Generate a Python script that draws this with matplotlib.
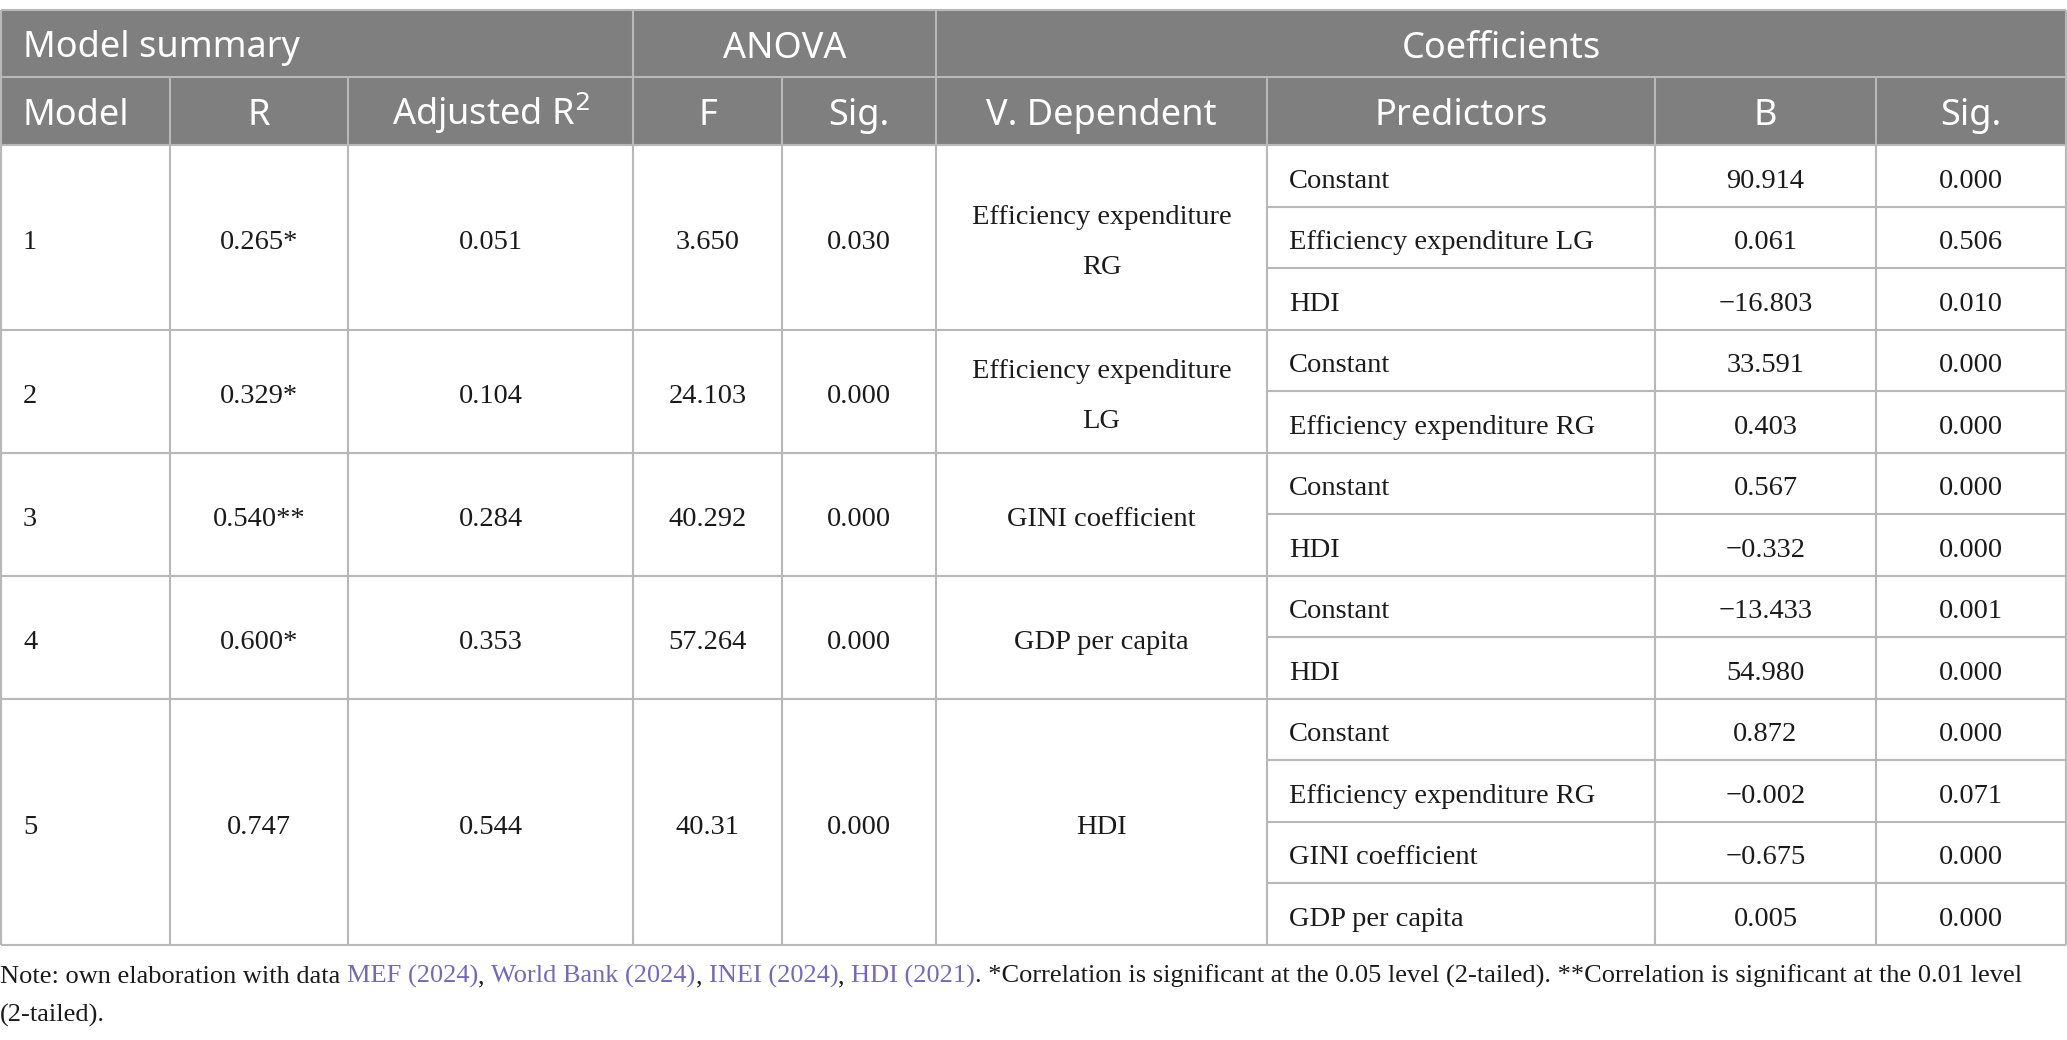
import matplotlib
matplotlib.use("Agg")
import matplotlib.pyplot as plt
from matplotlib.patches import Rectangle

# table content
models = ["1", "2", "3", "4", "5"]
r_vals = ["0.265*", "0.329*", "0.540**", "0.600*", "0.747"]
adj_r2 = ["0.051", "0.104", "0.284", "0.353", "0.544"]
f_vals = ["3.650", "24.103", "40.292", "57.264", "40.31"]
anova_sig = ["0.030", "0.000", "0.000", "0.000", "0.000"]
dependent = ["Efficiency expenditure\nRG", "Efficiency expenditure\nLG",
             "GINI coefficient", "GDP per capita", "HDI"]
predictors = [
    ["Constant", "Efficiency expenditure LG", "HDI"],
    ["Constant", "Efficiency expenditure RG"],
    ["Constant", "HDI"],
    ["Constant", "HDI"],
    ["Constant", "Efficiency expenditure RG", "GINI coefficient", "GDP per capita"],
]
b_vals = [
    ["90.914", "0.061", "\u221216.803"],
    ["33.591", "0.403"],
    ["0.567", "\u22120.332"],
    ["\u221213.433", "54.980"],
    ["0.872", "\u22120.002", "\u22120.675", "0.005"],
]
coef_sig = [
    ["0.000", "0.506", "0.010"],
    ["0.000", "0.000"],
    ["0.000", "0.000"],
    ["0.001", "0.000"],
    ["0.000", "0.071", "0.000", "0.000"],
]
group_headers = [("Model summary", 0, 3, "left"), ("ANOVA", 3, 5, "center"),
                 ("Coefficients", 5, 9, "center")]
col_headers = ["Model", "R", "Adjusted R$^2$", "F", "Sig.", "V. Dependent",
               "Predictors", "B", "Sig."]
note_parts = [
    ("Note: own elaboration with data ", "k"),
    ("MEF (2024)", "link"),
    (", ", "k"),
    ("World Bank (2024)", "link"),
    (", ", "k"),
    ("INEI (2024)", "link"),
    (", ", "k"),
    ("HDI (2021)", "link"),
    (". *Correlation is significant at the 0.05 level (2-tailed). **Correlation is significant at the 0.01 level", "k"),
]
note_line2 = "(2-tailed)."

W, H = 2067, 1040
cols = [1, 170, 348, 633, 782, 936, 1267, 1655, 1876, 2066]
y_top, y_h1, y_h2 = 10, 77, 145
row_h = 61.5
pad = 22

hdr_bg = "#7f7f7f"
grid = "#b8b8b8"
link_col = "#7566c0"
txt_col = "#1a1a1a"
sans = "Noto Sans"
serif = "Liberation Serif"
hdr_fs = 26
body_fs = 20.5
note_fs = 19
hdr_base = 14     # baseline below row middle
body_base = 12
line_gap = 50

fig = plt.figure(figsize=(W / 100, H / 100), dpi=100)
ax = fig.add_axes([0, 0, 1, 1])
ax.set_xlim(0, W)
ax.set_ylim(H, 0)
ax.axis("off")

ax.add_patch(Rectangle((cols[0], y_top), cols[-1] - cols[0], y_h2 - y_top,
                       facecolor=hdr_bg, edgecolor="none"))

def hline(y, x0, x1):
    ax.plot([x0, x1], [y, y], color=grid, lw=1.5, solid_capstyle="butt")

def vline(x, y0, y1):
    ax.plot([x, x], [y0, y1], color=grid, lw=1.5, solid_capstyle="butt")

def cell_text(txt, c0, c1, mid, align, family, fs, base, color=txt_col):
    x = cols[c0] + pad if align == "left" else (cols[c0] + cols[c1]) / 2
    lines = txt.split("\n")
    n = len(lines)
    for k, line in enumerate(lines):
        yb = mid + base + (k - (n - 1) / 2) * line_gap
        ax.text(x, yb, line, ha=align, va="baseline", family=family,
                fontsize=fs, color=color)

# header rows
for label, c0, c1, align in group_headers:
    cell_text(label, c0, c1, (y_top + y_h1) / 2, align, sans, hdr_fs,
              hdr_base, "white")
for i, label in enumerate(col_headers):
    cell_text(label, i, i + 1, (y_h1 + y_h2) / 2,
              "left" if i == 0 else "center", sans, hdr_fs, hdr_base, "white")

hline(y_top, cols[0], cols[-1])
hline(y_h1, cols[0], cols[-1])
hline(y_h2, cols[0], cols[-1])
for c in (3, 5):
    vline(cols[c], y_top, y_h1)
for c in cols[1:-1]:
    vline(c, y_h1, y_h2)

# body
y = y_h2
for g in range(len(models)):
    n = len(predictors[g])
    y0, y1 = y, y + n * row_h
    mid = (y0 + y1) / 2
    cell_text(models[g], 0, 1, mid, "left", serif, body_fs, body_base)
    cell_text(r_vals[g], 1, 2, mid, "center", serif, body_fs, body_base)
    cell_text(adj_r2[g], 2, 3, mid, "center", serif, body_fs, body_base)
    cell_text(f_vals[g], 3, 4, mid, "center", serif, body_fs, body_base)
    cell_text(anova_sig[g], 4, 5, mid, "center", serif, body_fs, body_base)
    cell_text(dependent[g], 5, 6, mid, "center", serif, body_fs, body_base)
    for k in range(n):
        yc = y0 + (k + 0.5) * row_h
        cell_text(predictors[g][k], 6, 7, yc, "left", serif, body_fs, body_base)
        cell_text(b_vals[g][k], 7, 8, yc, "center", serif, body_fs, body_base)
        cell_text(coef_sig[g][k], 8, 9, yc, "center", serif, body_fs, body_base)
        if k < n - 1:
            hline(y0 + (k + 1) * row_h, cols[6], cols[-1])
    hline(y1, cols[0], cols[-1])
    y = y1
y_bot = y
for c in cols:
    vline(c, y_h2, y_bot)
vline(cols[0], y_top, y_bot)
vline(cols[-1], y_top, y_bot)

# note with coloured source names
fig.canvas.draw()
renderer = fig.canvas.get_renderer()
inv = ax.transData.inverted()
x = 0
for txt, kind in note_parts:
    t = ax.text(x, 983, txt, ha="left", va="baseline", family=serif,
                fontsize=note_fs, color=link_col if kind == "link" else txt_col)
    bb = t.get_window_extent(renderer)
    x = inv.transform((bb.x1, bb.y1))[0]
ax.text(0, 1022, note_line2, ha="left", va="baseline", family=serif,
        fontsize=note_fs, color=txt_col)

fig.savefig("out.png", dpi=100)
